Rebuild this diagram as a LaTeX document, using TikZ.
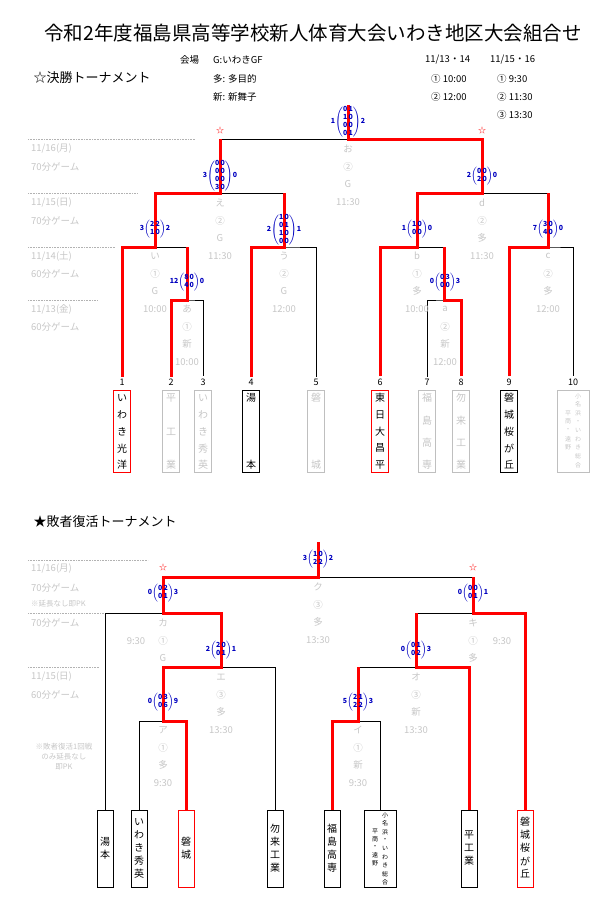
\documentclass[tikz,border=0pt]{standalone}
\usepackage{fontspec}
\setmainfont{Noto Sans CJK JP}
\usetikzlibrary{positioning}

\tikzset{
  bline/.style={black,line width=.8pt},
  rline/.style={red,line width=3pt},
  dotline/.style={gray!60,densely dotted,line width=.6pt},
  glab/.style={text=gray!45,font=\fontsize{9.5}{10}\selectfont,inner sep=0pt},
  hlab/.style={font=\fontsize{9.5}{10}\selectfont,anchor=west,inner sep=0pt},
  numlab/.style={font=\fontsize{9}{9}\selectfont,inner sep=2pt},
  leafbox/.style={draw,line width=.8pt,minimum height=82pt,inner sep=0pt},
  botbox/.style={draw,line width=.8pt,minimum height=77pt,inner sep=0pt},
  leaftext/.style={font=\fontsize{10}{10}\selectfont,inner sep=0pt},
  smalltext/.style={font=\fontsize{6}{6}\selectfont,inner sep=0pt},
  scorebox/.style={text=blue!75!black,font=\fontsize{7.5}{8.6}\selectfont\bfseries,inner sep=0pt},
  starlab/.style={text=red,font=\fontsize{8}{8}\selectfont,inner sep=0pt}
}

%% score of a match, two columns
\newcommand\scoremat[6]{\node[scorebox] (#1) at (#2,#3) {\scriptsize#4$\left(\begin{tabular}{@{}c@{\,}c@{}}#5\end{tabular}\right)$\scriptsize#6};}

%% team box of the upper tournament
\newcommand\topleaf[6]{%
  \node[leafbox,draw=#3,minimum width=17pt] (#1) at (#2,431) {};
  \foreach \c [count=\i] in {#6}{
    \pgfmathsetmacro\yy{398+(\i-1)*67/(#5-1)}
    \node[leaftext,text=#4] at (#2,\yy) {\c};
  }}

%% team box of the lower tournament
\newcommand\botleaf[5]{%
  \node[botbox,draw=#3,minimum width=16pt] (#1) at (#2,848.5) {};
  \foreach \c [count=\i] in {#5}{
    \pgfmathsetmacro\yy{848+(\i-(#4+1)/2)*13}
    \node[leaftext] at (#2,\yy) {\c};
  }}

\begin{document}
\begin{tikzpicture}[x=1pt,y=-1pt]
  \useasboundingbox (0,0) rectangle (605,906);

  %% Heading
  \node[font=\fontsize{19.5}{20}\selectfont] (title) at (313,33) {令和2年度福島県高等学校新人体育大会いわき地区大会組合せ};
  \node[font=\fontsize{13}{13}\selectfont,anchor=west] (final) at (30,78) {☆決勝トーナメント};
  \node[hlab] (venue) at (180,60) {会場};
  \foreach \y/\t in {60/G:いわきGF,79/多: 多目的,97/新: 新舞子}{
    \node[hlab] at (213,\y) {\t};
  }
  \foreach \x/\y/\t in {425/60/{11/13・14},431/79/① 10:00,431/97/② 12:00,
      490/60/{11/15・16},497/79/① 9:30,497/97/② 11:30,497/115/③ 13:30}{
    \node[hlab] at (\x,\y) {\t};
  }

  %% Days on the left
  \foreach \xe/\y in {195/139,138/193,115/247,98/300,148/560,106/613,99/667}{
    \draw[dotline] (28,\y) -- (\xe,\y);
  }
  \foreach \y/\t in {149/{11/16(月)},167/70分ゲーム,203/{11/15(日)},221/70分ゲーム,
      256/{11/14(土)},274/60分ゲーム,309/{11/13(金)},327/60分ゲーム,
      569/{11/16(月)},588/70分ゲーム,623/70分ゲーム,677/{11/15(日)},695/60分ゲーム}{
    \node[glab,anchor=west] at (31,\y) {\t};
  }
  \node[glab,anchor=west,font=\fontsize{7.5}{8}\selectfont] at (31,604) {※延長なし即PK};
  \node[glab,align=center,font=\fontsize{7.5}{10}\selectfont] at (64,757) {※敗者復活1回戦\\のみ延長なし\\即PK};

  %% Upper tournament: teams
  \foreach \n/\x in {1/122,2/171,3/203,4/251,5/316,6/380,7/427,8/461,9/509,10/573}{
    \node[numlab] (n\n) at (\x,382) {\n};
  }
  \topleaf{t1}{122}{red}{black}{5}{い,わ,き,光,洋}
  \topleaf{t2}{171}{gray!50}{gray!45}{3}{平,工,業}
  \topleaf{t3}{203}{gray!50}{gray!45}{5}{い,わ,き,秀,英}
  \topleaf{t4}{251}{black}{black}{2}{湯,本}
  \topleaf{t5}{316}{gray!50}{gray!45}{2}{磐,城}
  \topleaf{t6}{380}{red}{black}{5}{東,日,大,昌,平}
  \topleaf{t7}{427}{gray!50}{gray!45}{4}{福,島,高,専}
  \topleaf{t8}{461}{gray!50}{gray!45}{4}{勿,来,工,業}
  \topleaf{t9}{509}{black}{black}{5}{磐,城,桜,が,丘}
  \node[leafbox,draw=gray!50,minimum width=32pt] (t10) at (573,431) {};
  \foreach \c [count=\i] in {小,名,浜,・,い,わ,き,総,合}{
    \node[smalltext,text=gray!45] at (578,{396+(\i-1)*8.6}) {\c};
  }
  \foreach \c [count=\i] in {平,商,・,遠,野}{
    \node[smalltext,text=gray!45] at (568,{413+(\i-1)*8.6}) {\c};
  }

  %% Upper tournament: bracket
  \draw[bline] (n2.north) |- (187,300) -| (n3.north);
  \draw[bline] (187,300) -- (187,247);
  \draw[bline] (n1.north) |- (187,247);
  \draw[bline] (n4.north) |- (284,247) -| (n5.north);
  \draw[bline] (155,247) -- (155,193) -- (284,193) -- (284,247);
  \draw[bline] (n7.north) |- (444,300) -| (n8.north);
  \draw[bline] (444,300) -- (444,247);
  \draw[bline] (n6.north) |- (444,247);
  \draw[bline] (n9.north) |- (548,247) -| (n10.north);
  \draw[bline] (417,247) -- (417,193) -- (548,193) -- (548,247);
  \draw[bline] (220,193) -- (220,139) -- (482,139) -- (482,193);
  %% winners
  \draw[rline] (n1.north) |- (155,247) |- (220,193) -- (220,139);
  \draw[rline] (n2.north) |- (187,300) -- (187,247);
  \draw[rline] (n4.north) |- (284,247) -- (284,193);
  \draw[rline] (n6.north) |- (417,247) |- (482,193) |- (348,139) -- (348,105);
  \draw[rline] (n8.north) |- (444,300) -- (444,247);
  \draw[rline] (n9.north) |- (548,247) -- (548,193);
  \node[starlab] (st1) at (220,130) {☆};
  \node[starlab] (st2) at (482,130) {☆};

  %% Upper tournament: match labels
  \foreach \x/\ya/\t/\r/\v/\h in {348/149/お/②/G/11:30,220/203/え/②/G/11:30,
      155/256/い/①/G/10:00,187/309/あ/①/新/10:00,284/256/う/②/G/12:00,
      482/203/d/②/多/11:30,417/256/b/①/多/10:00,445/309/a/②/新/12:00,548/256/c/②/多/12:00}{
    \node[glab] at (\x,\ya) {\t};
    \node[glab] at (\x,\ya+18) {\r};
    \node[glab] at (\x,\ya+35) {\v};
    \node[glab] at (\x,\ya+53) {\h};
  }

  %% Upper tournament: scores
  \scoremat{s1}{348}{122}{1}{0&1\\1&0\\0&0\\0&1}{2}
  \scoremat{s2}{220}{176}{3}{0&0\\0&0\\0&0\\3&0}{0}
  \scoremat{s3}{482}{176}{2}{0&0\\2&0}{0}
  \scoremat{s4}{155}{229}{3}{2&2\\1&0}{2}
  \scoremat{s5}{284}{230}{2}{1&0\\0&1\\1&0\\0&0}{1}
  \scoremat{s6}{417}{229}{1}{1&0\\0&0}{0}
  \scoremat{s7}{548}{229}{7}{3&0\\4&0}{0}
  \scoremat{s8}{187}{282}{12}{8&0\\4&0}{0}
  \scoremat{s9}{445}{282}{0}{0&3\\0&0}{3}

  %% Lower tournament
  \node[font=\fontsize{13}{13}\selectfont,anchor=west] (loser) at (30,522) {★敗者復活トーナメント};
  \botleaf{b1}{105}{black}{2}{湯,本}
  \botleaf{b2}{139}{black}{5}{い,わ,き,秀,英}
  \botleaf{b3}{186}{red}{2}{磐,城}
  \botleaf{b4}{275}{black}{4}{勿,来,工,業}
  \botleaf{b5}{332}{black}{4}{福,島,高,専}
  \node[botbox,minimum width=32pt] (b6) at (380,848.5) {};
  \foreach \c [count=\i] in {小,名,浜,・,い,わ,き,総,合}{
    \node[smalltext] at (385,{815+(\i-1)*8.4}) {\c};
  }
  \foreach \c [count=\i] in {平,商,・,遠,野}{
    \node[smalltext] at (375,{831+(\i-1)*8.2}) {\c};
  }
  \botleaf{b7}{469}{black}{3}{平,工,業}
  \botleaf{b8}{525}{red}{5}{磐,城,桜,が,丘}

  \draw[bline] (b2.north) |- (163,721) -| (b3.north);
  \draw[bline] (163,721) -- (163,667) -| (b4.north);
  \draw[bline] (b1.north) |- (221,613) -- (221,667);
  \draw[bline] (b5.north) |- (358,721) -| (b6.north);
  \draw[bline] (358,721) -- (358,667) -| (b7.north);
  \draw[bline] (416,667) -- (416,613) -| (b8.north);
  \draw[bline] (163,613) -- (163,577) -- (473,577) -- (473,613);
  %% winners
  \draw[rline] (b3.north) |- (163,721) |- (221,667) |- (163,613) -- (163,577) -| (318,542);
  \draw[rline] (b5.north) |- (358,721) -- (358,667);
  \draw[rline] (b7.north) |- (416,667) -- (416,613);
  \draw[rline] (b8.north) |- (473,613) -- (473,577);
  \node[starlab] (st3) at (163,567) {☆};
  \node[starlab] (st4) at (473,567) {☆};

  \foreach \x/\ya/\t/\r/\v/\h in {318/587/ク/③/多/13:30,221/677/エ/③/多/13:30,
      416/677/オ/③/新/13:30,163/730/ア/①/多/9:30,358/730/イ/①/新/9:30}{
    \node[glab] at (\x,\ya) {\t};
    \node[glab] at (\x,\ya+18) {\r};
    \node[glab] at (\x,\ya+35) {\v};
    \node[glab] at (\x,\ya+53) {\h};
  }
  \foreach \x/\t/\v/\xt in {163/カ/G/136,473/キ/多/502}{
    \node[glab] at (\x,623) {\t};
    \node[glab] at (\x,641) {①};
    \node[glab] at (\x,658) {\v};
    \node[glab] at (\xt,641) {9:30};
  }

  \scoremat{r1}{318}{559}{3}{1&0\\2&2}{2}
  \scoremat{r2}{163}{593}{0}{0&2\\0&1}{3}
  \scoremat{r3}{473}{593}{0}{0&0\\0&1}{1}
  \scoremat{r4}{221}{650}{2}{2&0\\0&1}{1}
  \scoremat{r5}{416}{650}{0}{0&1\\0&2}{3}
  \scoremat{r6}{163}{702}{0}{0&3\\0&6}{9}
  \scoremat{r7}{358}{702}{5}{2&1\\2&2}{3}
\end{tikzpicture}
\end{document}
